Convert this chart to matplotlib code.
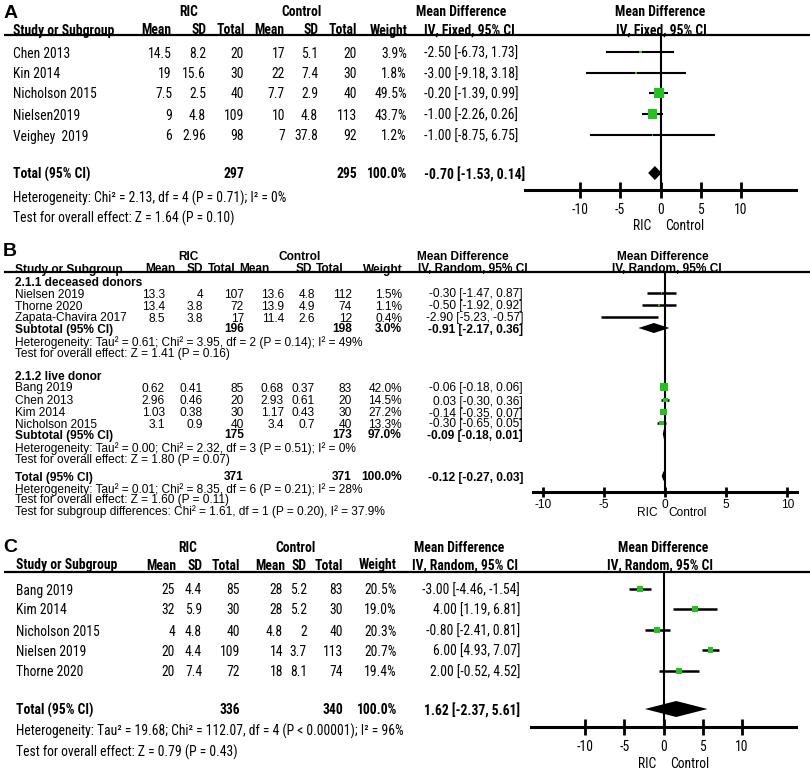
import matplotlib.pyplot as plt

# ---------------- data ----------------
cols = ["Mean", "SD", "Total", "Mean", "SD", "Total", "Weight"]

# A: IV, Fixed
studies_a = ["Chen 2013", "Kin 2014", "Nicholson 2015", "Nielsen2019", "Veighey  2019"]
ric_mean_a = [14.5, 19, 7.5, 9, 6]
ric_sd_a = [8.2, 15.6, 2.5, 4.8, 2.96]
ric_n_a = [20, 30, 40, 109, 98]
ctl_mean_a = [17, 22, 7.7, 10, 7]
ctl_sd_a = [5.1, 7.4, 2.9, 4.8, 37.8]
ctl_n_a = [20, 30, 40, 113, 92]
weight_a = [3.9, 1.8, 49.5, 43.7, 1.2]
md_a = [-2.50, -3.00, -0.20, -1.00, -1.00]
lo_a = [-6.73, -9.18, -1.39, -2.26, -8.75]
hi_a = [1.73, 3.18, 0.99, 0.26, 6.75]
tot_n_a = [297, 295]
tot_md_a = [-0.70, -1.53, 0.14]
stats_a = ["Heterogeneity: Chi\u00b2 = 2.13, df = 4 (P = 0.71); I\u00b2 = 0%",
           "Test for overall effect: Z = 1.64 (P = 0.10)"]

# B: IV, Random with two subgroups
groups_b = ["2.1.1 deceased donors", "2.1.2 live donor"]
studies_b = ["Nielsen 2019", "Thorne 2020", "Zapata-Chavira 2017",
             "Bang 2019", "Chen 2013", "Kim 2014", "Nicholson 2015"]
ric_mean_b = [13.3, 13.4, 8.5, 0.62, 2.96, 1.03, 3.1]
ric_sd_b = [4, 3.8, 3.8, 0.41, 0.46, 0.38, 0.9]
ric_n_b = [107, 72, 17, 85, 20, 30, 40]
ctl_mean_b = [13.6, 13.9, 11.4, 0.68, 2.93, 1.17, 3.4]
ctl_sd_b = [4.8, 4.9, 2.6, 0.37, 0.61, 0.43, 0.7]
ctl_n_b = [112, 74, 12, 83, 20, 30, 40]
weight_b = [1.5, 1.1, 0.4, 42.0, 14.5, 27.2, 13.3]
md_b = [-0.30, -0.50, -2.90, -0.06, 0.03, -0.14, -0.30]
lo_b = [-1.47, -1.92, -5.23, -0.18, -0.30, -0.35, -0.65]
hi_b = [0.87, 0.92, -0.57, 0.06, 0.36, 0.07, 0.05]
sub_ric_n_b = [196, 175]
sub_ctl_n_b = [198, 173]
sub_weight_b = [3.0, 97.0]
sub_md_b = [-0.91, -0.09]
sub_lo_b = [-2.17, -0.18]
sub_hi_b = [0.36, 0.01]
sub_stats_b = [["Heterogeneity: Tau\u00b2 = 0.61; Chi\u00b2 = 3.95, df = 2 (P = 0.14); I\u00b2 = 49%",
                "Test for overall effect: Z = 1.41 (P = 0.16)"],
               ["Heterogeneity: Tau\u00b2 = 0.00; Chi\u00b2 = 2.32, df = 3 (P = 0.51); I\u00b2 = 0%",
                "Test for overall effect: Z = 1.80 (P = 0.07)"]]
tot_n_b = [371, 371]
tot_md_b = [-0.12, -0.27, 0.03]
stats_b = ["Heterogeneity: Tau\u00b2 = 0.01; Chi\u00b2 = 8.35, df = 6 (P = 0.21); I\u00b2 = 28%",
           "Test for overall effect: Z = 1.60 (P = 0.11)",
           "Test for subgroup differences: Chi\u00b2 = 1.61, df = 1 (P = 0.20), I\u00b2 = 37.9%"]

# C: IV, Random
studies_c = ["Bang 2019", "Kim 2014", "Nicholson 2015", "Nielsen 2019", "Thorne 2020"]
ric_mean_c = [25, 32, 4, 20, 20]
ric_sd_c = [4.4, 5.9, 4.8, 4.4, 7.4]
ric_n_c = [85, 30, 40, 109, 72]
ctl_mean_c = [28, 28, 4.8, 14, 18]
ctl_sd_c = [5.2, 5.2, 2, 3.7, 8.1]
ctl_n_c = [83, 30, 40, 113, 74]
weight_c = [20.5, 19.0, 20.3, 20.7, 19.4]
md_c = [-3.00, 4.00, -0.80, 6.00, 2.00]
lo_c = [-4.46, 1.19, -2.41, 4.93, -0.52]
hi_c = [-1.54, 6.81, 0.81, 7.07, 4.52]
tot_n_c = [336, 340]
tot_md_c = [1.62, -2.37, 5.61]
stats_c = ["Heterogeneity: Tau\u00b2 = 19.68; Chi\u00b2 = 112.07, df = 4 (P < 0.00001); I\u00b2 = 96%",
           "Test for overall effect: Z = 0.79 (P = 0.43)"]

ticks = [-10, -5, 0, 5, 10]

# ---------------- layout ----------------
NARROW = ["Roboto Condensed", "Liberation Sans"]
NSIZE = 9.8
ARIAL = ["Liberation Sans"]
BS = 8.6
GREEN = "#1fc41f"

W, H = 810, 769
fig = plt.figure(figsize=(W / 100, H / 100), dpi=100)
bg = fig.add_axes([0, 0, 1, 1])
bg.set_xlim(0, W)
bg.set_ylim(H, 0)
bg.axis("off")


def txt(x, y, s, ha="left", size=NSIZE, bold=False, fam=NARROW):
    bg.text(x, y, s, ha=ha, va="center_baseline", fontsize=size,
            fontweight="bold" if bold else "normal", family=fam)


def g(v):
    return f"{v:g}"


def ci(m, lo, hi):
    return f"{m:.2f} [{lo:.2f}, {hi:.2f}]"


def forest_axes(x0, x1, ytop, ybot, lim, tick_len, tick_size, pad, fam):
    ax = fig.add_axes([x0 / W, 1 - ybot / H, (x1 - x0) / W, (ybot - ytop) / H])
    ax.set_facecolor("none")
    ax.set_xlim(-lim, lim)
    ax.set_ylim(ybot, ytop)
    for s in ["top", "left", "right"]:
        ax.spines[s].set_visible(False)
    ax.spines["bottom"].set_linewidth(2.2)
    ax.set_yticks([])
    ax.set_xticks(ticks)
    ax.set_xticklabels([g(t) for t in ticks], family=fam, fontsize=tick_size)
    ax.tick_params(axis="x", direction="inout", length=tick_len, width=2, pad=pad)
    ax.axvline(0, color="k", lw=1.5)
    return ax


def diamond(ax, m, lo, hi, y, h):
    ax.fill([lo, m, hi, m], [y, y - h, y, y + h], color="k", lw=0)


# ================= Panel A =================
txt(4, 12, "A", size=14, bold=True, fam=ARIAL)
for x, s in zip([189, 301, 461, 660], ["RIC", "Control", "Mean Difference", "Mean Difference"]):
    txt(x, 10, s, ha="center", bold=True)
txt(13, 29, "Study or Subgroup", bold=True)
for x, s in zip([171, 206, 245, 284, 319, 357, 408], cols):
    txt(x, 29, s, ha="right", bold=True)
txt(424, 29, "IV, Fixed, 95% CI", bold=True)
txt(661, 29, "IV, Fixed, 95% CI", ha="center", bold=True)
bg.plot([4, W], [35, 35], color="k", lw=1.6, solid_capstyle="butt")

rows_a = [52, 73, 93, 114, 135]
colx_a = [172, 206, 244, 285, 318, 357, 407]
for i, y in enumerate(rows_a):
    txt(13, y, studies_a[i])
    vals = [g(ric_mean_a[i]), g(ric_sd_a[i]), g(ric_n_a[i]), g(ctl_mean_a[i]),
            g(ctl_sd_a[i]), g(ctl_n_a[i]), f"{weight_a[i]:.1f}%"]
    for x, v in zip(colx_a, vals):
        txt(x, y, v, ha="right")
    txt(424, y, ci(md_a[i], lo_a[i], hi_a[i]))
txt(13, 173, "Total (95% CI)", bold=True)
txt(244, 173, g(tot_n_a[0]), ha="right", bold=True)
txt(357, 173, g(tot_n_a[1]), ha="right", bold=True)
txt(407, 173, "100.0%", ha="right", bold=True)
txt(424, 173, ci(*tot_md_a), bold=True)
txt(13, 197, stats_a[0])
txt(13, 217, stats_a[1])

ax = forest_axes(525, 796, 35, 190, 16.8, 11, NSIZE, 4, NARROW)
ax.hlines(rows_a, lo_a, hi_a, color="k", lw=1.5)
ax.scatter(md_a, rows_a, s=[w * 1.05 for w in weight_a], marker="s", color=GREEN, zorder=3, lw=0)
diamond(ax, tot_md_a[0], tot_md_a[1], tot_md_a[2], 173, 7)
txt(642, 225, "RIC", ha="center")
txt(685, 225, "Control", ha="center")

# ================= Panel B =================
txt(3, 249, "B", size=14, bold=True, fam=ARIAL)
for x, s in zip([188, 300, 463, 663], ["RIC", "Control", "Mean Difference", "Mean Difference"]):
    txt(x, 256, s, ha="center", size=BS, bold=True, fam=ARIAL)
txt(15, 268, "Study or Subgroup", size=BS, bold=True, fam=ARIAL)
for x, s in zip([175, 203, 235, 269, 312, 343, 403], cols):
    txt(x, 268, s, ha="right", size=BS, bold=True, fam=ARIAL)
txt(418, 268, "IV, Random, 95% CI", size=BS, bold=True, fam=ARIAL)
txt(667, 268, "IV, Random, 95% CI", ha="center", size=BS, bold=True, fam=ARIAL)
bg.plot([4, W], [272, 272], color="k", lw=1.6, solid_capstyle="butt")

rows_b = [293, 305, 317, 387, 400, 412, 423]
grp_y_b = [281, 376]
sub_y_b = [328, 434]
colx_b = [165, 203, 244, 284, 315, 352, 402]
for k, gy in enumerate(grp_y_b):
    txt(15, gy, groups_b[k], size=BS, bold=True, fam=ARIAL)
for i, y in enumerate(rows_b):
    txt(15, y, studies_b[i], size=BS, fam=ARIAL)
    vals = [g(ric_mean_b[i]), g(ric_sd_b[i]), g(ric_n_b[i]), g(ctl_mean_b[i]),
            g(ctl_sd_b[i]), g(ctl_n_b[i]), f"{weight_b[i]:.1f}%"]
    for x, v in zip(colx_b, vals):
        txt(x, y, v, ha="right", size=BS, fam=ARIAL)
    txt(523, y, ci(md_b[i], lo_b[i], hi_b[i]), ha="right", size=BS, fam=ARIAL)
for k, y in enumerate(sub_y_b):
    txt(15, y, "Subtotal (95% CI)", size=BS, bold=True, fam=ARIAL)
    txt(244, y, g(sub_ric_n_b[k]), ha="right", size=BS, bold=True, fam=ARIAL)
    txt(352, y, g(sub_ctl_n_b[k]), ha="right", size=BS, bold=True, fam=ARIAL)
    txt(402, y, f"{sub_weight_b[k]:.1f}%", ha="right", size=BS, bold=True, fam=ARIAL)
    txt(523, y, ci(sub_md_b[k], sub_lo_b[k], sub_hi_b[k]), ha="right", size=BS, bold=True, fam=ARIAL)
    txt(15, y + 13, sub_stats_b[k][0], size=BS, fam=ARIAL)
    txt(15, y + 25, sub_stats_b[k][1], size=BS, fam=ARIAL)
txt(15, 476, "Total (95% CI)", size=BS, bold=True, fam=ARIAL)
txt(244, 476, g(tot_n_b[0]), ha="right", size=BS, bold=True, fam=ARIAL)
txt(352, 476, g(tot_n_b[1]), ha="right", size=BS, bold=True, fam=ARIAL)
txt(402, 476, "100.0%", ha="right", size=BS, bold=True, fam=ARIAL)
txt(523, 476, ci(*tot_md_b), ha="right", size=BS, bold=True, fam=ARIAL)
for k, y in enumerate([488, 499, 510]):
    txt(15, y, stats_b[k], size=BS, fam=ARIAL)

ax = forest_axes(533, 797, 272, 492, 10.8, 7, BS, 1.5, ARIAL)
ax.hlines(rows_b, lo_b, hi_b, color="k", lw=1.8)
ax.scatter(md_b, rows_b, s=[w * 0.8 for w in weight_b], marker="s", color=GREEN, zorder=3, lw=0)
for k, y in enumerate(sub_y_b):
    diamond(ax, sub_md_b[k], sub_lo_b[k], sub_hi_b[k], y, 5)
diamond(ax, tot_md_b[0], tot_md_b[1], tot_md_b[2], 476, 5)
txt(647, 512, "RIC", ha="center", size=BS, fam=ARIAL)
txt(688, 512, "Control", ha="center", size=BS, fam=ARIAL)

# ================= Panel C =================
txt(3, 545, "C", size=14, bold=True, fam=ARIAL)
for x, s in zip([188, 295, 459, 663], ["RIC", "Control", "Mean Difference", "Mean Difference"]):
    txt(x, 546, s, ha="center", bold=True)
txt(16, 564, "Study or Subgroup", bold=True)
for x, s in zip([176, 203, 240, 285, 307, 343, 397], cols):
    txt(x, 564, s, ha="right", bold=True)
txt(412, 564, "IV, Random, 95% CI", bold=True)
txt(660, 564, "IV, Random, 95% CI", ha="center", bold=True)
bg.plot([4, W], [572, 572], color="k", lw=1.6, solid_capstyle="butt")

rows_c = [589, 609, 630, 650, 671]
colx_c = [175, 202, 240, 283, 307, 343, 397]
for i, y in enumerate(rows_c):
    txt(16, y, studies_c[i])
    vals = [g(ric_mean_c[i]), g(ric_sd_c[i]), g(ric_n_c[i]), g(ctl_mean_c[i]),
            g(ctl_sd_c[i]), g(ctl_n_c[i]), f"{weight_c[i]:.1f}%"]
    for x, v in zip(colx_c, vals):
        txt(x, y, v, ha="right")
    txt(520, y, ci(md_c[i], lo_c[i], hi_c[i]), ha="right")
txt(16, 709, "Total (95% CI)", bold=True)
txt(240, 709, g(tot_n_c[0]), ha="right", bold=True)
txt(343, 709, g(tot_n_c[1]), ha="right", bold=True)
txt(397, 709, "100.0%", ha="right", bold=True)
txt(520, 709, ci(*tot_md_c), ha="right", bold=True)
txt(16, 730, stats_c[0])
txt(16, 751, stats_c[1])

ax = forest_axes(531, 796, 572, 727, 16.9, 11, NSIZE, 4, NARROW)
ax.hlines(rows_c, lo_c, hi_c, color="k", lw=1.8)
ax.scatter(md_c, rows_c, s=[w * 0.85 for w in weight_c], marker="s", color=GREEN, zorder=3, lw=0)
diamond(ax, tot_md_c[0], tot_md_c[1], tot_md_c[2], 709, 8)
txt(647, 762, "RIC", ha="center")
txt(690, 762, "Control", ha="center")

fig.savefig("out.png", dpi=100)
